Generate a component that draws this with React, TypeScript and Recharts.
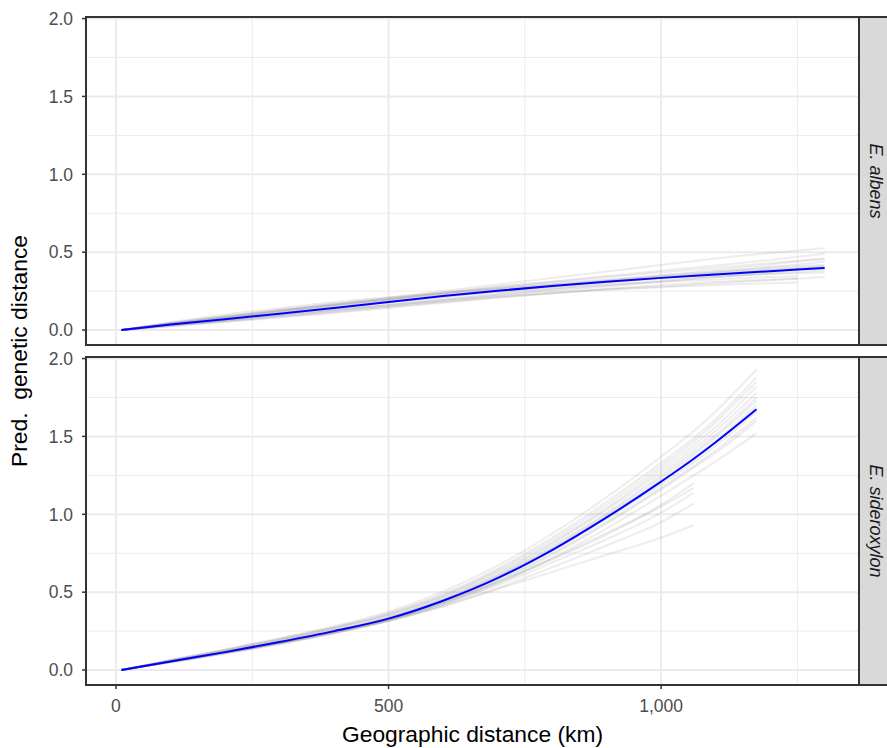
import { LineChart, Line, XAxis, YAxis, CartesianGrid } from "recharts";

const distAlbens = [10, 100, 200, 300, 400, 500, 600, 700, 800, 900, 1000, 1100, 1200, 1250, 1300];
const distSider = [10, 100, 200, 300, 400, 500, 600, 700, 800, 900, 1000, 1060, 1100, 1175];

const albensFit = [0, 0.035, 0.07, 0.105, 0.142, 0.18, 0.218, 0.252, 0.283, 0.31, 0.335, 0.357, 0.378, 0.388, 0.398];
const albensBoot = [
  [0, 0.04, 0.08, 0.12, 0.16, 0.2, 0.24, 0.28, 0.31, 0.34, 0.37, 0.4, 0.43, 0.445, 0.46],
  [0, 0.03, 0.06, 0.09, 0.12, 0.15, 0.18, 0.21, 0.235, 0.26, 0.28, 0.3, 0.32, 0.33, 0.34],
  [0, 0.045, 0.09, 0.13, 0.17, 0.205, 0.24, 0.27, 0.3, 0.325, 0.35, 0.375, 0.4, 0.41, 0.42],
  [0, 0.025, 0.055, 0.085, 0.115, 0.15, 0.185, 0.22, 0.25, 0.28, 0.31, 0.34, 0.37, 0.385, 0.4],
  [0, 0.05, 0.1, 0.14, 0.18, 0.21, 0.24, 0.265, 0.29, 0.31, 0.33, 0.345, 0.36, 0.365, 0.37],
  [0, 0.035, 0.075, 0.115, 0.155, 0.195, 0.235, 0.275, 0.31, 0.345, 0.38, 0.415, 0.45, 0.47, 0.49],
  [0, 0.03, 0.065, 0.1, 0.13, 0.16, 0.19, 0.215, 0.24, 0.26, 0.275, 0.29, 0.3, 0.305],
  [0, 0.04, 0.075, 0.11, 0.145, 0.18, 0.215, 0.25, 0.28, 0.31, 0.335, 0.36, 0.385, 0.395, 0.41],
  [0, 0.028, 0.058, 0.09, 0.125, 0.16, 0.195, 0.23, 0.265, 0.3, 0.335, 0.37, 0.405, 0.42, 0.44],
  [0, 0.042, 0.085, 0.125, 0.16, 0.19, 0.22, 0.245, 0.27, 0.29, 0.31, 0.325, 0.34, 0.345],
  [0, 0.036, 0.07, 0.105, 0.14, 0.175, 0.21, 0.245, 0.28, 0.315, 0.35, 0.385, 0.42, 0.44, 0.455],
  [0, 0.038, 0.078, 0.118, 0.158, 0.195, 0.23, 0.262, 0.292, 0.32, 0.345, 0.368, 0.39, 0.4, 0.41],
  [0, 0.032, 0.064, 0.097, 0.13, 0.163, 0.196, 0.228, 0.258, 0.287, 0.315, 0.34, 0.363, 0.373, 0.382],
  [0, 0.045, 0.088, 0.128, 0.165, 0.2, 0.232, 0.262, 0.29, 0.315, 0.338, 0.36, 0.38, 0.39, 0.4],
  [0, 0.04, 0.082, 0.124, 0.166, 0.208, 0.25, 0.292, 0.334, 0.376, 0.418, 0.46, 0.495, 0.51, 0.525],
  [0, 0.026, 0.052, 0.08, 0.11, 0.142, 0.175, 0.207, 0.237, 0.265, 0.29, 0.31, 0.325, 0.33],
];

const siderFit = [0, 0.055, 0.115, 0.18, 0.25, 0.33, 0.445, 0.59, 0.77, 0.98, 1.21, 1.357, 1.463, 1.675];
const siderBoot = [
  [0, 0.06, 0.12, 0.19, 0.265, 0.35, 0.47, 0.62, 0.81, 1.03, 1.27, 1.42, 1.535, 1.78],
  [0, 0.05, 0.11, 0.17, 0.24, 0.32, 0.43, 0.57, 0.74, 0.94, 1.16, 1.3, 1.395, 1.6],
  [0, 0.065, 0.13, 0.2, 0.275, 0.365, 0.49, 0.65, 0.85, 1.08, 1.33, 1.49, 1.61, 1.88],
  [0, 0.055, 0.115, 0.18, 0.25, 0.335, 0.45, 0.6, 0.78, 0.99, 1.22, 1.365, 1.47, 1.7],
  [0, 0.05, 0.105, 0.165, 0.235, 0.315, 0.42, 0.555, 0.72, 0.91, 1.12, 1.25, 1.34, 1.52],
  [0, 0.06, 0.125, 0.195, 0.27, 0.355, 0.475, 0.63, 0.82, 1.04, 1.29, 1.445, 1.56, 1.82],
  [0, 0.058, 0.118, 0.185, 0.255, 0.34, 0.46, 0.61, 0.795, 1.01, 1.25, 1.4, 1.51, 1.75],
  [0, 0.052, 0.11, 0.172, 0.242, 0.322, 0.435, 0.575, 0.75, 0.95, 1.17, 1.31, 1.41, 1.62],
  [0, 0.062, 0.128, 0.198, 0.272, 0.36, 0.48, 0.64, 0.835, 1.06, 1.31, 1.47, 1.59, 1.85],
  [0, 0.054, 0.112, 0.176, 0.248, 0.33, 0.445, 0.59, 0.765, 0.97, 1.19, 1.335, 1.44, 1.66],
  [0, 0.064, 0.132, 0.205, 0.283, 0.375, 0.505, 0.67, 0.875, 1.11, 1.37, 1.535, 1.66, 1.93],
  [0, 0.057, 0.118, 0.183, 0.255, 0.338, 0.455, 0.605, 0.785, 1.0, 1.235, 1.385, 1.495, 1.73],
  [0, 0.055, 0.115, 0.178, 0.248, 0.328, 0.43, 0.56, 0.71, 0.87, 1.06, 1.2],
  [0, 0.054, 0.112, 0.175, 0.245, 0.322, 0.42, 0.545, 0.69, 0.84, 1.01, 1.14],
  [0, 0.053, 0.11, 0.172, 0.24, 0.315, 0.41, 0.525, 0.66, 0.8, 0.95, 1.07],
  [0, 0.052, 0.11, 0.172, 0.24, 0.318, 0.41, 0.52, 0.63, 0.74, 0.85, 0.93],
  [0, 0.056, 0.116, 0.18, 0.25, 0.33, 0.435, 0.565, 0.715, 0.88, 1.05, 1.17],
];

const xTicks = [0, 500, 1000];
const xMinor = [250, 750, 1250];
const yTicks = [0, 0.5, 1, 1.5, 2];
const yMinor = [0.25, 0.75, 1.25, 1.75];

const FONT = '"Liberation Sans", Arial, sans-serif';
const X_DOMAIN = [-55, 1363];
const Y_DOMAIN = [-0.096, 2.01];

const toPoints = (xs: number[], ys: number[]) => ys.map((y, i) => ({ x: xs[i], y }));

function Panel({ dist, fit, boot, showX, top, height }: any) {
  return (
    <div style={{ position: "absolute", left: 0, top }}>
      <LineChart width={859} height={height} margin={{ top: 17, right: 0, bottom: 0, left: 0 }}>
        <CartesianGrid stroke="#ebebeb" strokeWidth={1} horizontalValues={yMinor} verticalValues={xMinor} />
        <CartesianGrid stroke="#ebebeb" strokeWidth={2} horizontalValues={yTicks} verticalValues={xTicks} />
        <XAxis
          type="number"
          dataKey="x"
          domain={X_DOMAIN}
          allowDataOverflow
          ticks={xTicks}
          hide={!showX}
          height={63}
          axisLine={false}
          tickLine={{ stroke: "#333333", strokeWidth: 1.5 }}
          tickSize={4}
          tickMargin={11}
          tickFormatter={(v: number) => v.toLocaleString("en-US")}
          tick={{ fontSize: 17.5, fill: "#4d4d4d", fontFamily: FONT }}
        />
        <YAxis
          type="number"
          domain={Y_DOMAIN}
          allowDataOverflow
          ticks={yTicks}
          width={86}
          axisLine={false}
          tickLine={{ stroke: "#333333", strokeWidth: 1.5 }}
          tickSize={4}
          tickMargin={9}
          tickFormatter={(v: number) => v.toFixed(1)}
          tick={{ fontSize: 17.5, fill: "#4d4d4d", fontFamily: FONT }}
        />
        {boot.map((ys: number[], i: number) => (
          <Line
            key={i}
            data={toPoints(dist, ys)}
            dataKey="y"
            type="monotone"
            stroke="#808080"
            strokeOpacity={0.14}
            strokeWidth={2}
            dot={false}
            activeDot={false}
            isAnimationActive={false}
          />
        ))}
        <Line
          data={toPoints(dist, fit)}
          dataKey="y"
          type="monotone"
          stroke="#0000ff"
          strokeWidth={2}
          dot={false}
          activeDot={false}
          isAnimationActive={false}
        />
      </LineChart>
    </div>
  );
}

export default function App() {
  return (
    <div style={{ position: "absolute", left: 0, top: 0, width: 887, height: 748, background: "#fff", overflow: "hidden", fontFamily: FONT }}>
      <Panel dist={distAlbens} fit={albensFit} boot={albensBoot} showX={false} top={0} height={345} />
      <Panel dist={distSider} fit={siderFit} boot={siderBoot} showX={true} top={340} height={408} />
      <svg width={887} height={748} style={{ position: "absolute", left: 0, top: 0, pointerEvents: "none" }}>
        <rect x={86} y={17} width={773} height={328} fill="none" stroke="#333333" strokeWidth={2} />
        <rect x={86} y={357} width={773} height={328} fill="none" stroke="#333333" strokeWidth={2} />
        <rect x={859} y={17} width={40} height={328} fill="#d9d9d9" stroke="#333333" strokeWidth={2} />
        <rect x={859} y={357} width={40} height={328} fill="#d9d9d9" stroke="#333333" strokeWidth={2} />
        <text x={870} y={181} transform="rotate(90 870 181)" textAnchor="middle" fontSize={18} fontStyle="italic" fill="#1a1a1a" fontFamily={FONT}>
          E. albens
        </text>
        <text x={870} y={521} transform="rotate(90 870 521)" textAnchor="middle" fontSize={18} fontStyle="italic" fill="#1a1a1a" fontFamily={FONT}>
          E. sideroxylon
        </text>
        <text x={472.5} y={742} textAnchor="middle" fontSize={22.8} fill="#000" fontFamily={FONT}>
          Geographic distance (km)
        </text>
        <text x={27} y={351} transform="rotate(-90 27 351)" textAnchor="middle" fontSize={22.8} fill="#000" fontFamily={FONT} style={{ whiteSpace: "pre" }}>
          {"Pred.  genetic distance"}
        </text>
      </svg>
    </div>
  );
}
